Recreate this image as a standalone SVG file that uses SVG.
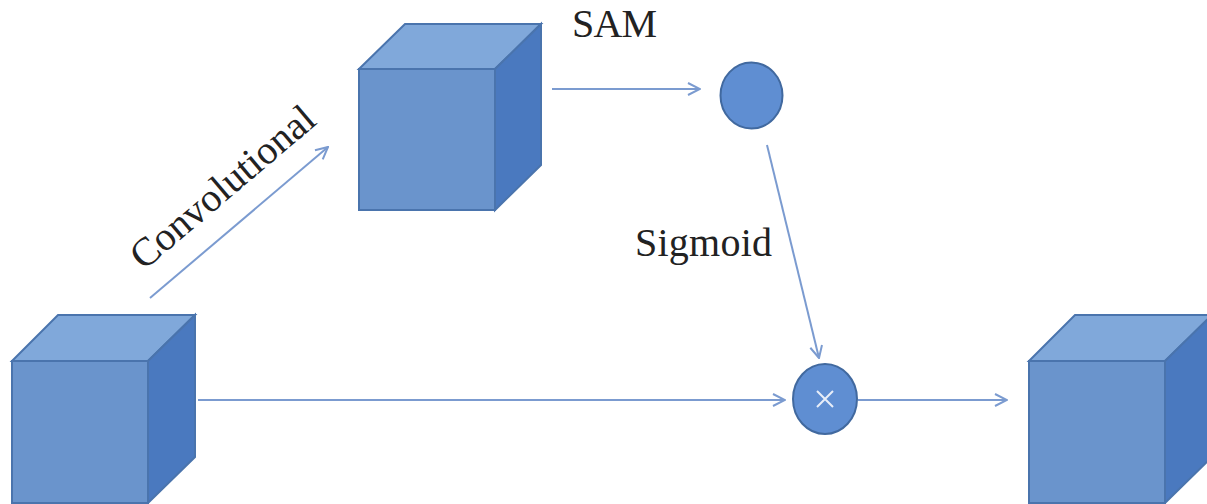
<svg xmlns="http://www.w3.org/2000/svg" width="1207" height="504" viewBox="0 0 1207 504">
<style>
.front{fill:#6a94cc;stroke:#4a74ad;stroke-width:2}
.top{fill:#80a8da;stroke:#4a74ad;stroke-width:2}
.side{fill:#4a79bf;stroke:#4a74ad;stroke-width:2}
.node{fill:#5f8ed2;stroke:#41699f;stroke-width:2}
.conn{stroke:#7b9bd0;stroke-width:2;fill:none;marker-end:url(#ah)}
.lbl{font-family:"Liberation Serif",serif;font-size:40px;fill:#222}
</style>
<defs>
<marker id="ah" viewBox="0 0 14 14" refX="13" refY="7" markerWidth="14" markerHeight="14" markerUnits="userSpaceOnUse" orient="auto">
<path d="M1,1 L13,7 L1,13" fill="none" stroke="#7b9bd0" stroke-width="2"/>
</marker>
</defs>
<rect width="1207" height="504" fill="#ffffff"/>
<g id="cube-input">
<polygon class="top" points="12,361 58,315 195,315 148,361"/>
<polygon class="side" points="148,361 195,315 195,457 148,503"/>
<rect class="front" x="12" y="361" width="136" height="142"/>
</g>
<g id="cube-conv">
<polygon class="top" points="359,69 405,24 541,24 495,69"/>
<polygon class="side" points="495,69 541,24 541,165 495,210"/>
<rect class="front" x="359" y="69" width="136" height="141"/>
</g>
<g id="cube-output">
<polygon class="top" points="1029,361 1075,315 1212,315 1165,361"/>
<polygon class="side" points="1165,361 1212,315 1212,457 1165,503"/>
<rect class="front" x="1029" y="361" width="136" height="142"/>
</g>
<g id="sam-node">
<ellipse class="node" cx="751.5" cy="95.5" rx="31" ry="33"/>
</g>
<g id="mult-node">
<ellipse class="node" cx="825" cy="399" rx="32" ry="35"/>
<path d="M817,391 L833,407 M833,391 L817,407" stroke="#e8eef8" stroke-width="2"/>
</g>
<g id="connectors">
<path class="conn" d="M150,298 L328,147"/>
<path class="conn" d="M552,89 L700,89"/>
<path class="conn" d="M767,145 L819,358"/>
<path class="conn" d="M198,400 L785,400"/>
<path class="conn" d="M858,400 L1007,400"/>
</g>
<g id="labels">
<text class="lbl" x="572" y="37" textLength="85">SAM</text>
<text class="lbl" x="635" y="256" textLength="137">Sigmoid</text>
<text class="lbl" text-anchor="middle" font-size="44" transform="translate(231,197) rotate(-40.3)">Convolutional</text>
</g>
</svg>
